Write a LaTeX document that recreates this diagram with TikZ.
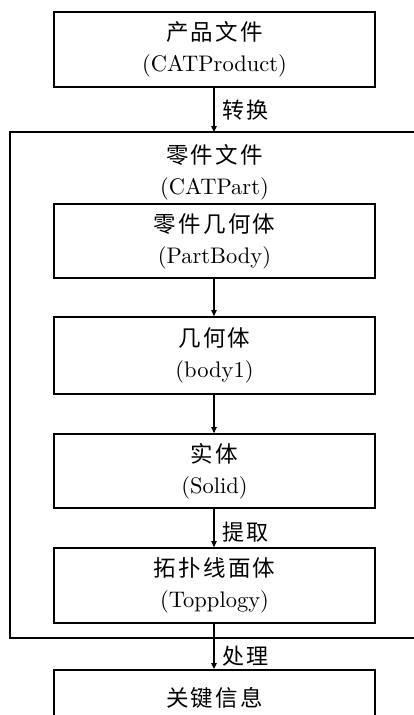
\documentclass[tikz,border=0pt]{standalone}
\usepackage{fontspec}
\newfontfamily\cjk[LetterSpace=10]{Noto Sans CJK SC}
\newfontfamily\lat{lmroman10-regular}[Extension=.otf]
\usetikzlibrary{arrows.meta}
\tikzset{
  box/.style={draw=black, line width=1.8pt, minimum width=321pt, inner sep=0pt, align=center,
    font=\fontsize{22.5}{31}\selectfont\lat},
  txt/.style={inner sep=0pt, align=center, font=\fontsize{22.5}{31}\selectfont\lat},
  lbl/.style={inner sep=0pt, anchor=west, font=\fontsize{22}{26}\selectfont\cjk},
  arr/.style={line width=1.1pt, -{Triangle[width=5.5pt,length=6pt]}}
}
\begin{document}
\begin{tikzpicture}[x=1pt,y=-1pt]
\useasboundingbox (0,0) rectangle (414,715);
% outer frame
\draw[line width=1.8pt] (440,132) -- (10,132) -- (10,638) -- (440,638);
\node[box, minimum height=75pt] (prod) at (214.5,49.5) {{\cjk 产品文件}\\(CATProduct)};
\coordinate (otop) at (214,132);
\node[txt] (part) at (214.5,172) {{\cjk 零件文件}\\(CATPart)};
\node[box, minimum height=74pt] (pbody) at (214.5,241) {{\cjk 零件几何体}\\(PartBody)};
\node[box, minimum height=77pt] (body) at (214.5,355.5) {{\cjk 几何体}\\(body1)};
\node[box, minimum height=74pt] (solid) at (214.5,471) {{\cjk 实体}\\(Solid)};
\node[box, minimum height=75pt] (topo) at (214.5,585.5) {{\cjk 拓扑线面体}\\(Topplogy)};
\coordinate (obot) at (214,638);
\node[box, minimum height=91pt, anchor=north] (key) at (214.5,669) {{\cjk 关键信息}\\\phantom{(X)}};
% connectors
\draw[arr] (prod.south -| otop) -- (otop);
\draw[arr] (pbody.south -| otop) -- (body.north -| otop);
\draw[arr] (body.south -| otop) -- (solid.north -| otop);
\draw[arr] (solid.south -| otop) -- (topo.north -| otop);
\draw[arr] (topo.south -| otop) -- (key.north -| otop);
% labels
\node[lbl] (l1) at (222,110) {转换};
\node[lbl] (l2) at (222,532) {提取};
\node[lbl] (l3) at (222,656) {处理};
\end{tikzpicture}
\end{document}
